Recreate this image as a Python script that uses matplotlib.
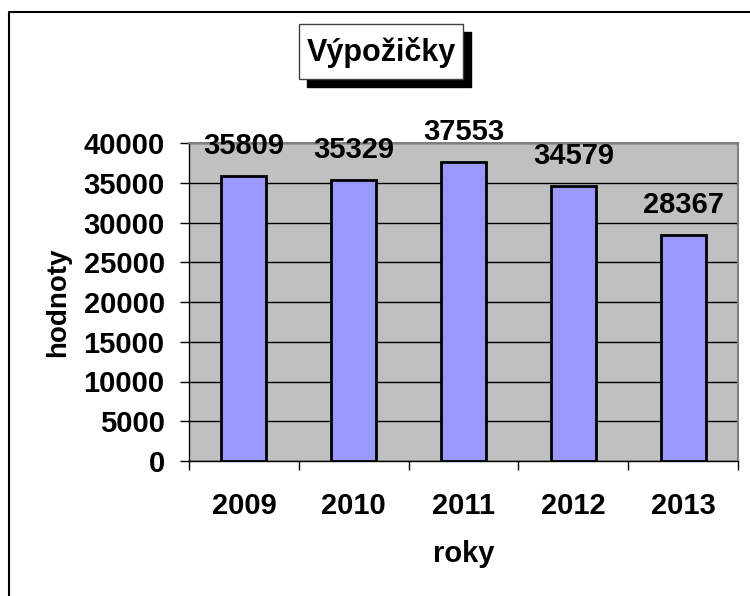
import matplotlib
matplotlib.use("Agg")
import matplotlib.pyplot as plt
from matplotlib.patches import Rectangle
from matplotlib.lines import Line2D

# data
years = ["2009", "2010", "2011", "2012", "2013"]
values = [35809, 35329, 37553, 34579, 28367]
yticks = [0, 5000, 10000, 15000, 20000, 25000, 30000, 35000, 40000]

plt.rcParams['font.family'] = ['Liberation Sans', 'DejaVu Sans']
plt.rcParams['font.weight'] = 'bold'

W, H = 750, 596
fig = plt.figure(figsize=(W / 100, H / 100), dpi=100)

def fx(px):
    return px / W

def fy(py):
    return 1 - py / H

# outer chart border (only left and top show inside the picture)
fig.lines.append(Line2D([fx(9), fx(9), 1.01], [-0.01, fy(12), fy(12)],
                        transform=fig.transFigure, color='black', linewidth=1.5))

ax = fig.add_axes([fx(189), fy(461), fx(738 - 189), (461 - 143) / H])
ax.set_facecolor('#C0C0C0')

x = list(range(len(years)))
ax.bar(x, values, width=0.41, color='#9999FF', edgecolor='black',
       linewidth=2, zorder=3)

for xi, v in zip(x, values):
    ax.annotate(str(v), (xi, v), xytext=(0, 30), textcoords='offset pixels',
                ha='center', va='center', fontsize=21, fontweight='bold',
                zorder=4, annotation_clip=False)

ax.set_xlim(-0.5, len(years) - 0.5)
ax.set_ylim(0, 40000)
ax.set_yticks(yticks)
ax.set_yticklabels([str(t) for t in yticks])
ax.yaxis.grid(True, color='black', linewidth=1, zorder=1)
ax.set_axisbelow(True)

# category ticks between bars, labels centered on bars
ax.set_xticks([i - 0.5 for i in range(len(years) + 1)])
ax.set_xticklabels([])
ax.set_xticks(x, minor=True)
ax.set_xticklabels(years, minor=True)
ax.tick_params(axis='x', which='major', direction='out', length=6.5, width=1)
ax.tick_params(axis='x', which='minor', length=0, pad=22, labelsize=21)
ax.tick_params(axis='y', direction='out', length=6.5, width=1, pad=11,
               labelsize=21)

for s in ['top', 'right']:
    ax.spines[s].set_color('#808080')
    ax.spines[s].set_linewidth(1.5)
for s in ['left', 'bottom']:
    ax.spines[s].set_color('black')
    ax.spines[s].set_linewidth(1)

ax.set_ylabel('hodnoty', fontsize=20, fontweight='bold', labelpad=9)
ax.set_xlabel('roky', fontsize=21, fontweight='bold', labelpad=15)

# boxed title with shadow
fig.patches.append(Rectangle((fx(307), fy(87)), fx(164), 55 / H,
                             transform=fig.transFigure, facecolor='black',
                             edgecolor='black', zorder=1))
fig.patches.append(Rectangle((fx(299), fy(79)), fx(164), 55 / H,
                             transform=fig.transFigure, facecolor='white',
                             edgecolor='#404040', linewidth=1, zorder=2))
fig.text(fx(381), fy(52), 'Výpožičky', ha='center', va='center',
         fontsize=22, fontweight='bold', color='black', zorder=3)

fig.savefig('out.png', dpi=100)
